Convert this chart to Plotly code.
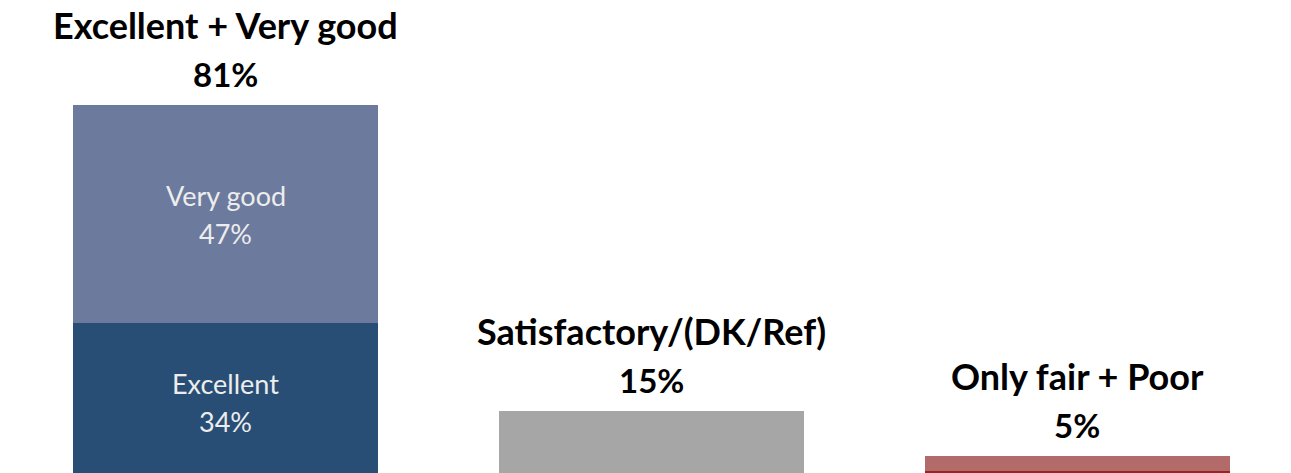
import plotly.graph_objects as go

categories = ["Excellent + Very good", "Satisfactory/(DK/Ref)", "Only fair + Poor"]

excellent = 34
very_good = 47
satisfactory = 15
only_fair = 3.2
poor = 2.1

totals = [excellent + very_good, satisfactory, only_fair + poor]
total_labels = ["81%", "15%", "5%"]

fig = go.Figure()
fig.add_trace(go.Bar(x=[categories[0]], y=[excellent], name="Excellent", marker_color="#294E75"))
fig.add_trace(go.Bar(x=[categories[0]], y=[very_good], name="Very good", marker_color="#6C7B9D"))
fig.add_trace(go.Bar(x=[categories[1]], y=[satisfactory], name="Satisfactory", marker_color="#A6A6A6"))
fig.add_trace(go.Bar(x=[categories[2]], y=[poor], name="Poor", marker_color="#9B2423"))
fig.add_trace(go.Bar(x=[categories[2]], y=[only_fair], name="Only fair", marker_color="#B36B69"))
fig.update_traces(width=0.717, marker_line_width=0, hoverinfo="skip")

# headers above each bar
for cat, tot, lab in zip(categories, totals, total_labels):
    fig.add_annotation(x=cat, y=tot, text="<b>" + cat + "</b>", showarrow=False,
                       yanchor="middle", yshift=80, font=dict(size=36, color="black"))
    fig.add_annotation(x=cat, y=tot, text="<b>" + lab + "</b>", showarrow=False,
                       yanchor="middle", yshift=31, font=dict(size=33, color="black"))

# labels inside the stacked bar
inner = [("Excellent", excellent, excellent / 2), ("Very good", very_good, excellent + very_good / 2)]
for name, val, mid in inner:
    fig.add_annotation(x=categories[0], y=mid, text=name, showarrow=False,
                       yanchor="middle", yshift=19, font=dict(size=27, color="#EDEDED"))
    fig.add_annotation(x=categories[0], y=mid, text=f"{val}%", showarrow=False,
                       yanchor="middle", yshift=-19, font=dict(size=27, color="#EDEDED"))

fig.update_layout(
    width=1291, height=473,
    barmode="stack",
    showlegend=False,
    paper_bgcolor="white", plot_bgcolor="white",
    margin=dict(l=13, r=1, t=0, b=0),
    font=dict(family="Lato, Carlito, Open Sans, sans-serif"),
    xaxis=dict(visible=False, range=[-0.5, 2.5]),
    yaxis=dict(visible=False, range=[1.72, 103.66]),
)

# drop the default body margin so the figure fills the window from its corner
fig.write_html("out.html", config={"displayModeBar": False},
               post_script="document.body.style.margin = '0';")
